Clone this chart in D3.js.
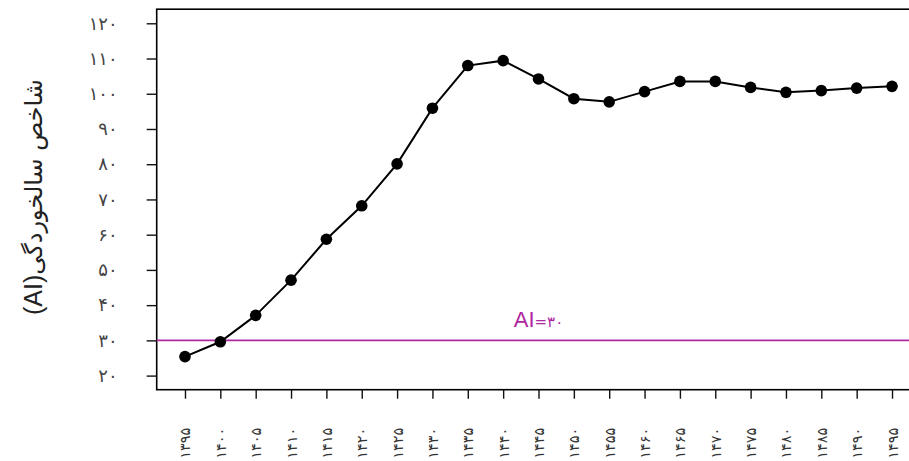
<!DOCTYPE html>
<html>
<head>
<meta charset="utf-8">
<script src="https://cdn.jsdelivr.net/npm/d3@7/dist/d3.min.js"></script>
<style>
  html, body { margin: 0; padding: 0; background: #fff; overflow: hidden; }
  svg { display: block; }
</style>
</head>
<body>
<svg id="chart" width="909" height="461"></svg>
<script>
// Ageing index by year (Solar Hijri)
const years = [1395, 1400, 1405, 1410, 1415, 1420, 1425, 1430, 1435, 1440,
               1445, 1450, 1455, 1460, 1465, 1470, 1475, 1480, 1485, 1490, 1495];
const agingIndex = [25.4, 29.6, 37.1, 47.1, 58.7, 68.2, 80.1, 95.9, 108.0, 109.4,
                    104.2, 98.6, 97.7, 100.6, 103.5, 103.5, 101.8, 100.4, 100.9, 101.6, 102.1];
const yTicks = [20, 30, 40, 50, 60, 70, 80, 90, 100, 110, 120];
const threshold = 30;

const faDigits = "۰۱۲۳۴۵۶۷۸۹";
const toFa = n => String(n).replace(/\d/g, d => faDigits[+d]);

const svg = d3.select("#chart");

const x = d3.scaleLinear().domain([1391, 1499]).range([156.7, 920.3]);
const y = d3.scaleLinear().domain([16, 124]).range([389.7, 9.2]);

// Plot frame
svg.append("rect")
  .attr("x", x(1391)).attr("y", y(124))
  .attr("width", x(1499) - x(1391)).attr("height", y(16) - y(124))
  .attr("fill", "none").attr("stroke", "#000").attr("stroke-width", 1.6);

// Y axis
const yAxis = d3.axisLeft(y).tickValues(yTicks).tickSize(10).tickPadding(29).tickFormat(toFa);
const gy = svg.append("g").attr("transform", `translate(${x(1391)},0)`).call(yAxis);
gy.select(".domain").remove();
gy.selectAll(".tick line").attr("stroke", "#111").attr("stroke-width", 1.4);
gy.selectAll(".tick text")
  .attr("font-family", "DejaVu Sans, sans-serif").attr("font-size", 18).attr("fill", "#444");

// X axis
const xAxis = d3.axisBottom(x).tickValues(years).tickSize(9).tickFormat(toFa);
const gx = svg.append("g").attr("transform", `translate(0,${y(16)})`).call(xAxis);
gx.select(".domain").remove();
gx.selectAll(".tick line").attr("stroke", "#111").attr("stroke-width", 1.4);
gx.selectAll(".tick text")
  .attr("font-family", "DejaVu Sans, sans-serif").attr("font-size", 14.5).attr("fill", "#333")
  .attr("text-anchor", "end")
  .attr("dy", null).attr("y", null)
  .attr("transform", "translate(5,38) rotate(-90)");

// Threshold line AI = 30
svg.append("line")
  .attr("x1", x(1391)).attr("x2", x(1499))
  .attr("y1", y(threshold)).attr("y2", y(threshold))
  .attr("stroke", "#b0289f").attr("stroke-width", 1.6);

const lbl = svg.append("text")
  .attr("x", x(1445)).attr("y", y(threshold) - 13)
  .attr("text-anchor", "middle").attr("fill", "#b0289f")
  .attr("font-family", "Liberation Sans, Arial, sans-serif");
lbl.append("tspan").attr("font-size", 22).text("AI");
lbl.append("tspan").attr("font-size", 15).attr("font-family", "DejaVu Sans, sans-serif").text("=" + toFa(threshold));

// Series line and points
const line = d3.line().x((d, i) => x(years[i])).y(d => y(d));
svg.append("path")
  .datum(agingIndex)
  .attr("d", line)
  .attr("fill", "none").attr("stroke", "#000").attr("stroke-width", 2);

svg.append("g").selectAll("circle")
  .data(agingIndex)
  .join("circle")
  .attr("cx", (d, i) => x(years[i]))
  .attr("cy", d => y(d))
  .attr("r", 5.8)
  .attr("fill", "#000");

// Y axis title
const title = svg.append("text")
  .attr("transform", "translate(42,197) rotate(-90)")
  .attr("text-anchor", "middle")
  .attr("direction", "rtl")
  .attr("fill", "#222");
title.append("tspan").attr("font-family", "DejaVu Sans, sans-serif").attr("font-size", 24).text("شاخص سالخوردگی");
title.append("tspan").attr("font-family", "Liberation Sans, Arial, sans-serif").attr("font-size", 25).text("(AI)");
</script>
</body>
</html>
